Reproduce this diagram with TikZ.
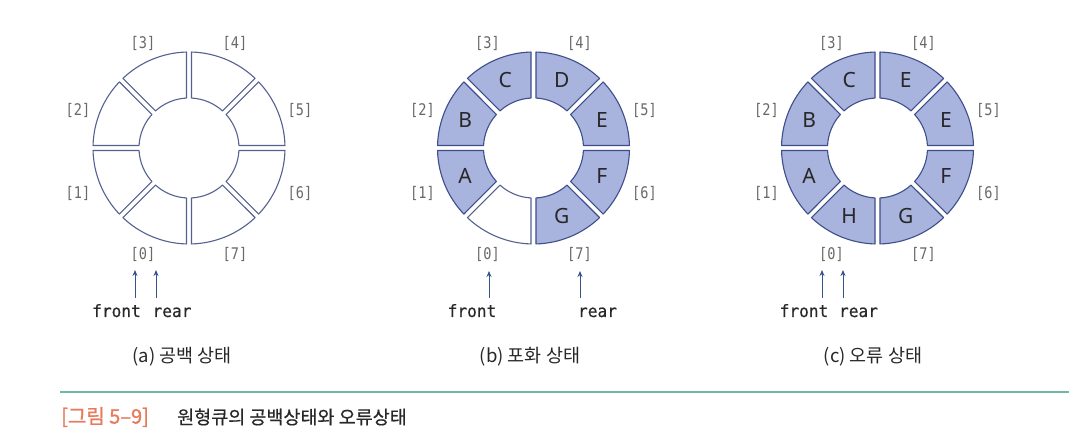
\documentclass[tikz,border=0pt]{standalone}
\usepackage{fontspec}
\setmainfont{Noto Sans}
\newfontfamily\krfont{Noto Sans CJK KR}
\newfontfamily\krbold[FakeBold=0.5]{Noto Sans CJK KR}
\newfontfamily\krtag[FakeBold=1.2]{Noto Sans CJK KR}
\newfontfamily\monofont[FakeStretch=0.95,FakeBold=0.4]{DejaVu Sans Mono}
\newfontfamily\idxfont[FakeStretch=0.85]{DejaVu Sans Mono}
\usetikzlibrary{calc,arrows.meta}
\definecolor{segfill}{RGB}{168,180,222}
\definecolor{segline}{RGB}{62,78,138}
\definecolor{emptyline}{RGB}{84,98,145}
\definecolor{idxgray}{RGB}{105,105,105}
\definecolor{arrblue}{RGB}{52,82,140}
\definecolor{capor}{RGB}{232,122,92}
\definecolor{rulecol}{RGB}{110,185,165}
\definecolor{txtdark}{RGB}{40,40,40}
\newcommand\qseg[3]{%
  \pgfmathsetmacro\qa{-135-45*#2}%
  \pgfmathsetmacro\qb{\qa+45}%
  \pgfmathsetmacro\qoa{\qa+1.49}%
  \pgfmathsetmacro\qob{\qb-1.49}%
  \pgfmathsetmacro\qia{\qa+2.87}%
  \pgfmathsetmacro\qib{\qb-2.87}%
  \draw[#3] ($(#1)+(\qoa:96pt)$) arc[start angle=\qoa, end angle=\qob, radius=96pt]
    -- ($(#1)+(\qib:50pt)$) arc[start angle=\qib, end angle=\qia, radius=50pt] -- cycle;
}
\tikzset{
  emptyseg/.style={draw=emptyline, line width=1.1pt, fill=white, line join=round},
  fullseg/.style={draw=segline, line width=1.1pt, fill=segfill, line join=round},
  idx/.style={text=idxgray, font=\idxfont\fontsize{16}{18}\selectfont, inner sep=0pt},
  letter/.style={text=txtdark, font=\fontsize{21}{24}\selectfont, inner sep=0pt},
  ptr/.style={text=txtdark, font=\monofont\fontsize{17}{19}\selectfont, inner sep=0pt, anchor=base},
  ptrarrow/.style={draw=arrblue, line width=1pt, -{Stealth[length=6pt,width=5pt]}},
  subcap/.style={text=txtdark, font=\krfont\fontsize{18.5}{20}\selectfont, inner sep=0pt},
  figtag/.style={text=capor, font=\krtag\fontsize{20}{22}\selectfont, inner sep=0pt, anchor=west},
  figtext/.style={text=txtdark, font=\krbold\fontsize{18.5}{20}\selectfont, inner sep=0pt, anchor=west},
}
\begin{document}
\begin{tikzpicture}[x=1pt,y=1pt]
\useasboundingbox (0,0) rectangle (1080,434);
\fill[white] (0,0) rectangle (1080,434);
\coordinate (ca) at (189,286);
\coordinate (cb) at (533.5,286);
\coordinate (cc) at (877.5,286);
% ring (a)
\foreach \i in {0,...,7} {\qseg{ca}{\i}{emptyseg}}
% ring (b)
\qseg{cb}{0}{emptyseg}
\foreach \i in {1,...,7} {\qseg{cb}{\i}{fullseg}}
% ring (c)
\foreach \i in {0,...,7} {\qseg{cc}{\i}{fullseg}}
% index labels
\foreach \r in {a,b,c} {
  \foreach \i/\dx/\dy in {0/-46/-106, 1/-111/-45, 2/-111/38, 3/-46/105, 4/46/105, 5/111/38, 6/111/-45, 7/46/-106}
    \node[idx] (l\r\i) at ($(c\r)+(\dx pt,\dy pt)$) {[\i]};
}
% letters ring (b)
\foreach \i/\t in {1/A,2/B,3/C,4/D,5/E,6/F,7/G}
  \node[letter] (tb\i) at ($(cb)+({-112.5-45*\i}:74pt)$) {\t};
% letters ring (c)
\foreach \i/\t in {0/H,1/A,2/B,3/C,4/E,5/E,6/F,7/G}
  \node[letter] (tc\i) at ($(cc)+({-112.5-45*\i}:74pt)$) {\t};
% pointers
\node[ptr] (fa) at (116.5,117) {front};
\node[ptr] (ra) at (172,117) {rear};
\node[ptr] (fb) at (472,117) {front};
\node[ptr] (rb) at (597.5,117) {rear};
\node[ptr] (fc) at (804,117) {front};
\node[ptr] (rc) at (858.5,117) {rear};
\coordinate (fat) at (135,136); \coordinate (fah) at (135,164);
\coordinate (rat) at (156,136); \coordinate (rah) at (156,164);
\coordinate (fbt) at (489,136); \coordinate (fbh) at (489,163);
\coordinate (rbt) at (580,136); \coordinate (rbh) at (580,163);
\coordinate (fct) at (822,136); \coordinate (fch) at (822,164);
\coordinate (rct) at (843,136); \coordinate (rch) at (843,164);
\draw[ptrarrow] (fat) -- (fah);
\draw[ptrarrow] (rat) -- (rah);
\draw[ptrarrow] (fbt) -- (fbh);
\draw[ptrarrow] (rbt) -- (rbh);
\draw[ptrarrow] (fct) -- (fch);
\draw[ptrarrow] (rct) -- (rch);
% sub captions
\node[subcap] (sa) at (182,77) {(a) 공백 상태};
\node[subcap] (sb) at (530,77) {(b) 포화 상태};
\node[subcap] (sc) at (873,77) {(c) 오류 상태};
% rule and figure caption
\coordinate (rl) at (60,42);
\coordinate (rr) at (1069,42);
\draw[rulecol, line width=1.3pt] (rl) -- (rr);
\node[figtag] (ft) at (61,17) {[그림 5–9]};
\node[figtext] (fx) at (177,17) {원형큐의 공백상태와 오류상태};
\end{tikzpicture}
\end{document}
